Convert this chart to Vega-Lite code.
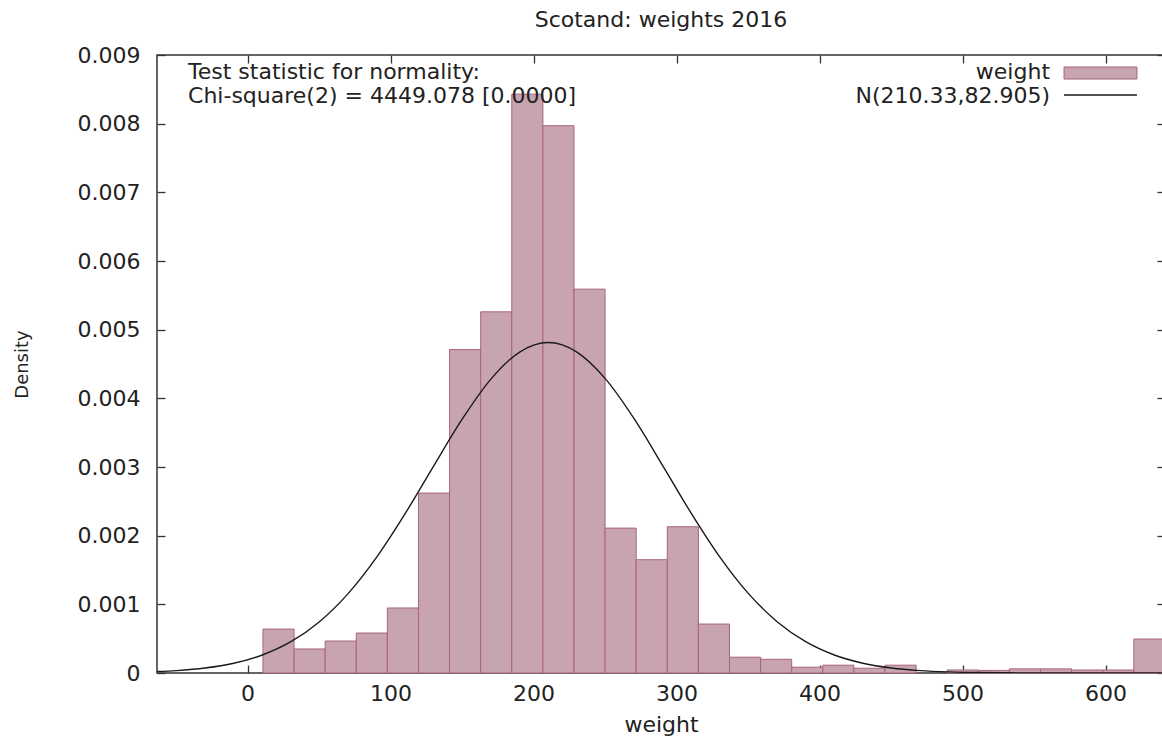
{
  "$schema": "https://vega.github.io/schema/vega-lite/v6.json",
  "width": 1008,
  "height": 618,
  "autosize": {"type": "none"},
  "padding": {"left": 157, "top": 55, "right": 0, "bottom": 65},
  "title": {"text": "Scotand: weights 2016", "fontSize": 22, "font": "DejaVu Sans", "fontWeight": "normal", "color": "#222", "anchor": "middle", "offset": 12},
  "config": {
    "view": {"stroke": "#333", "strokeWidth": 1.5},
    "font": "DejaVu Sans",
    "axis": {"domain": false, "grid": false, "tickColor": "#333", "tickWidth": 1.3, "labelFontSize": 22, "labelColor": "#222", "labelFont": "DejaVu Sans", "titleFont": "DejaVu Sans", "titleFontWeight": "normal", "titleColor": "#222"}
  },
  "datasets": {
    "bins": [
      {"x0": 10.8, "x1": 32.55, "density": 0.00064},
      {"x0": 32.55, "x1": 54.3, "density": 0.00035},
      {"x0": 54.3, "x1": 76.05, "density": 0.000466},
      {"x0": 76.05, "x1": 97.8, "density": 0.000582},
      {"x0": 97.8, "x1": 119.55, "density": 0.000947},
      {"x0": 119.55, "x1": 141.3, "density": 0.00262},
      {"x0": 141.3, "x1": 163.05, "density": 0.00471},
      {"x0": 163.05, "x1": 184.8, "density": 0.00526},
      {"x0": 184.8, "x1": 206.55, "density": 0.00843},
      {"x0": 206.55, "x1": 228.3, "density": 0.00797},
      {"x0": 228.3, "x1": 250.05, "density": 0.00559},
      {"x0": 250.05, "x1": 271.8, "density": 0.00211},
      {"x0": 271.8, "x1": 293.55, "density": 0.00165},
      {"x0": 293.55, "x1": 315.3, "density": 0.00213},
      {"x0": 315.3, "x1": 337.05, "density": 0.000713},
      {"x0": 337.05, "x1": 358.8, "density": 0.00023},
      {"x0": 358.8, "x1": 380.55, "density": 0.0002},
      {"x0": 380.55, "x1": 402.3, "density": 0.000085},
      {"x0": 402.3, "x1": 424.05, "density": 0.000114},
      {"x0": 424.05, "x1": 445.8, "density": 0.00007},
      {"x0": 445.8, "x1": 467.55, "density": 0.000114},
      {"x0": 489.3, "x1": 511.05, "density": 0.000044},
      {"x0": 511.05, "x1": 532.8, "density": 0.000038},
      {"x0": 532.8, "x1": 554.55, "density": 0.00006},
      {"x0": 554.55, "x1": 576.3, "density": 0.00006},
      {"x0": 576.3, "x1": 598.05, "density": 0.000044},
      {"x0": 598.05, "x1": 619.8, "density": 0.000044},
      {"x0": 619.8, "x1": 641.55, "density": 0.000495}
    ],
    "curve": [
      {"x": -69.67, "density": 0.000016048},
      {"x": -49.67, "density": 0.000035209},
      {"x": -29.67, "density": 0.000072875},
      {"x": -9.67, "density": 0.0001423},
      {"x": 10.33, "density": 0.00026218},
      {"x": 30.33, "density": 0.00045573},
      {"x": 50.33, "density": 0.00074739},
      {"x": 70.33, "density": 0.0011564},
      {"x": 90.33, "density": 0.0016881},
      {"x": 110.33, "density": 0.0023249},
      {"x": 130.33, "density": 0.0030209},
      {"x": 150.33, "density": 0.0037034},
      {"x": 170.33, "density": 0.0042834},
      {"x": 190.33, "density": 0.0046741},
      {"x": 210.33, "density": 0.0048121},
      {"x": 230.33, "density": 0.0046741},
      {"x": 250.33, "density": 0.0042834},
      {"x": 270.33, "density": 0.0037034},
      {"x": 290.33, "density": 0.0030209},
      {"x": 310.33, "density": 0.0023249},
      {"x": 330.33, "density": 0.0016881},
      {"x": 350.33, "density": 0.0011564},
      {"x": 370.33, "density": 0.00074739},
      {"x": 390.33, "density": 0.00045573},
      {"x": 410.33, "density": 0.00026218},
      {"x": 430.33, "density": 0.0001423},
      {"x": 450.33, "density": 0.000072875},
      {"x": 470.33, "density": 0.000035209},
      {"x": 490.33, "density": 0.000016048},
      {"x": 510.33, "density": 0.0000069016},
      {"x": 530.33, "density": 0.0000028002},
      {"x": 550.33, "density": 0.0000010719},
      {"x": 570.33, "density": 0.000000387},
      {"x": 590.33, "density": 0.000000132},
      {"x": 610.33, "density": 0.000000042},
      {"x": 630.33, "density": 0.000000013},
      {"x": 650.33, "density": 0.0000000037}
    ]
  },
  "layer": [
    {
      "data": {"name": "bins"},
      "mark": {"type": "rect", "fill": "#c8a3b0", "stroke": "#a8647d", "strokeWidth": 1},
      "encoding": {
        "x": {"field": "x0", "type": "quantitative", "scale": {"domain": [-63.3, 641.6], "nice": false, "zero": false},
              "axis": {"orient": "bottom", "values": [0, 100, 200, 300, 400, 500, 600], "tickSize": -8, "labelPadding": 18, "title": "weight", "titleFontSize": 22, "titlePadding": 10}},
        "x2": {"field": "x1"},
        "y": {"field": "density", "type": "quantitative", "scale": {"domain": [0, 0.009], "nice": false, "zero": true},
              "axis": {"orient": "left", "values": [0, 0.001, 0.002, 0.003, 0.004, 0.005, 0.006, 0.007, 0.008, 0.009], "format": "~g", "tickSize": -8, "labelPadding": 25, "title": "Density", "titleFontSize": 18, "titlePadding": 46}},
        "y2": {"datum": 0}
      }
    },
    {
      "data": {"name": "curve"},
      "mark": {"type": "line", "color": "#1a1a1a", "strokeWidth": 1.4, "interpolate": "monotone", "clip": true},
      "encoding": {
        "x": {"field": "x", "type": "quantitative",
              "axis": {"orient": "top", "values": [0, 100, 200, 300, 400, 500, 600], "tickSize": -8, "labels": false, "title": null}},
        "y": {"field": "density", "type": "quantitative",
              "axis": {"orient": "right", "values": [0, 0.001, 0.002, 0.003, 0.004, 0.005, 0.006, 0.007, 0.008, 0.009], "tickSize": -8, "labels": false, "title": null}}
      }
    },
    {
      "data": {"values": [{}]},
      "mark": {"type": "text", "text": "Test statistic for normality:", "align": "left", "baseline": "middle", "fontSize": 22, "color": "#222"},
      "encoding": {"x": {"datum": -41.6, "type": "quantitative", "axis": null}, "y": {"datum": 0.008752, "type": "quantitative", "axis": null}}
    },
    {
      "data": {"values": [{}]},
      "mark": {"type": "text", "text": "Chi-square(2) = 4449.078 [0.0000]", "align": "left", "baseline": "middle", "fontSize": 22, "color": "#222"},
      "encoding": {"x": {"datum": -41.6, "type": "quantitative", "axis": null}, "y": {"datum": 0.008403, "type": "quantitative", "axis": null}}
    },
    {
      "data": {"values": [{}]},
      "mark": {"type": "text", "text": "weight", "align": "right", "baseline": "middle", "fontSize": 22, "color": "#222"},
      "encoding": {"x": {"datum": 561.2, "type": "quantitative", "axis": null}, "y": {"datum": 0.008752, "type": "quantitative", "axis": null}}
    },
    {
      "data": {"values": [{}]},
      "mark": {"type": "text", "text": "N(210.33,82.905)", "align": "right", "baseline": "middle", "fontSize": 22, "color": "#222"},
      "encoding": {"x": {"datum": 561.2, "type": "quantitative", "axis": null}, "y": {"datum": 0.008403, "type": "quantitative", "axis": null}}
    },
    {
      "data": {"values": [{}]},
      "mark": {"type": "rect", "fill": "#c8a3b0", "stroke": "#a8647d", "strokeWidth": 1},
      "encoding": {"x": {"datum": 571.0, "type": "quantitative", "axis": null}, "x2": {"datum": 622.0}, "y": {"datum": 0.008825, "type": "quantitative", "axis": null}, "y2": {"datum": 0.00865}}
    },
    {
      "data": {"values": [{}]},
      "mark": {"type": "rule", "color": "#1a1a1a", "strokeWidth": 1.4},
      "encoding": {"x": {"datum": 571.0, "type": "quantitative", "axis": null}, "x2": {"datum": 622.0}, "y": {"datum": 0.008418, "type": "quantitative", "axis": null}}
    }
  ],
  "resolve": {"axis": {"x": "independent", "y": "independent"}}
}
